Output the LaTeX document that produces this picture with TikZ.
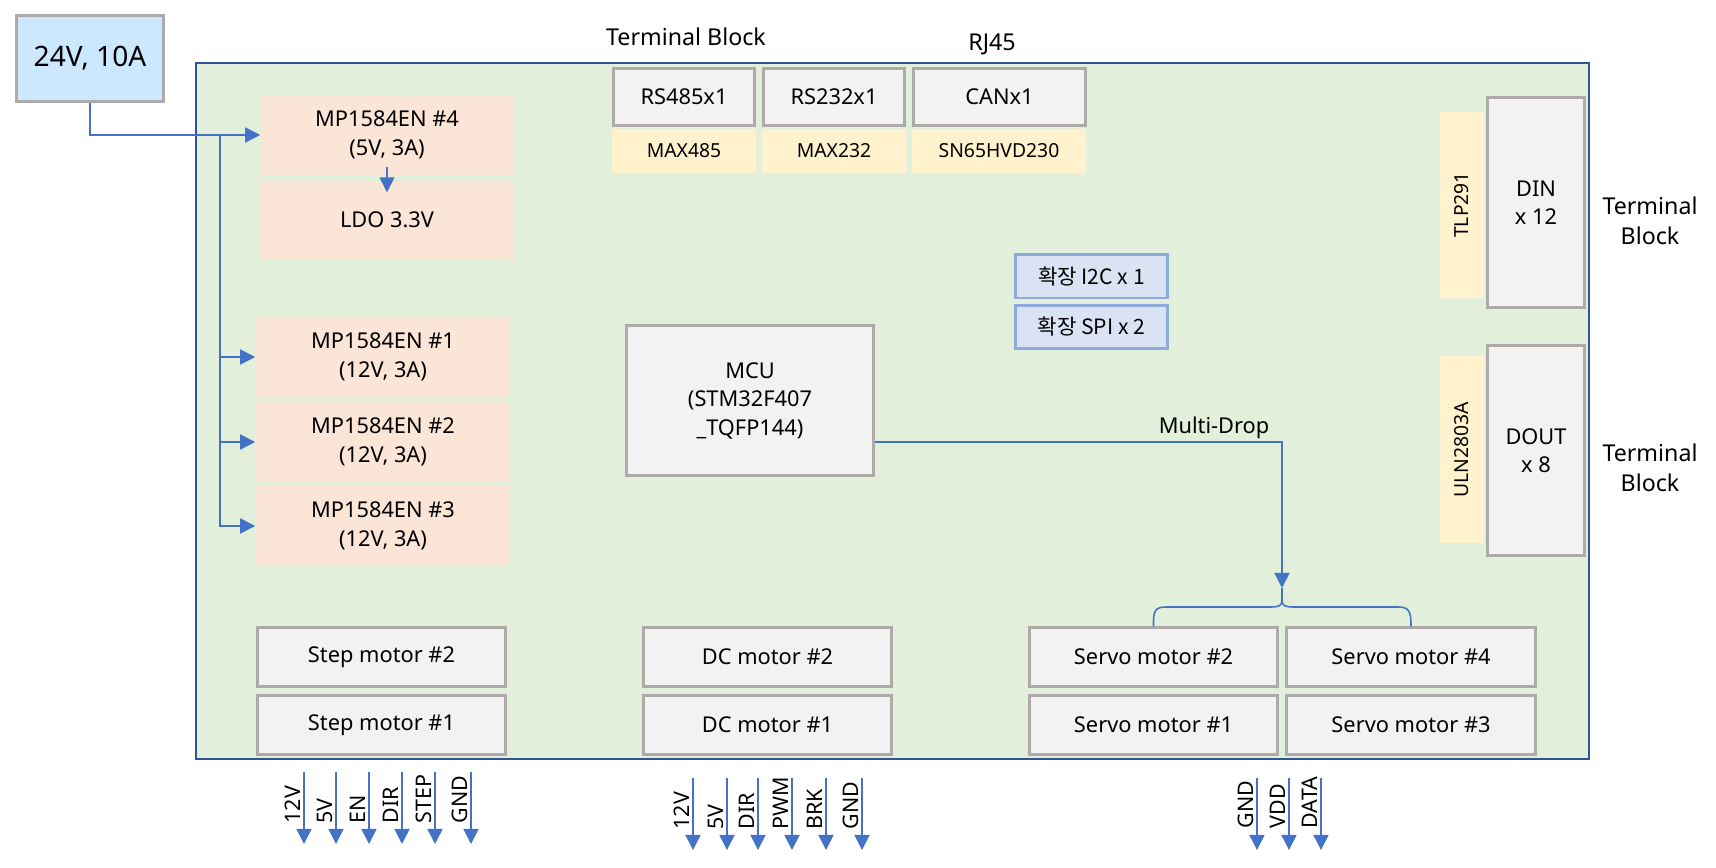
\documentclass[tikz,border=0pt]{standalone}
\usepackage{fontspec}
\setmainfont{Noto Sans}
\newfontfamily\krfont{Noto Sans CJK KR}
\usetikzlibrary{positioning,arrows.meta}
\definecolor{wireblue}{HTML}{4472C4}
\definecolor{boardline}{HTML}{2F5597}
\definecolor{boardfill}{HTML}{E2EFDA}
\definecolor{boxgray}{HTML}{AEAAAA}
\definecolor{boxfill}{HTML}{F2F2F2}
\definecolor{psufill}{HTML}{CCE8FF}
\definecolor{regfill}{HTML}{FBE5D6}
\definecolor{chipfill}{HTML}{FFF2CC}
\definecolor{extfill}{HTML}{DAE3F3}
\definecolor{extline}{HTML}{8FAADC}
\newcommand\bdtext{\fontsize{6.2}{8.1}\selectfont}
\newcommand\bdsmall{\fontsize{5.5}{6.6}\selectfont}
\newcommand\bdext{\fontsize{6}{7}\selectfont}
\newcommand\bdbig{\fontsize{8}{9.6}\selectfont}
\newcommand\bdlabel{\fontsize{6.6}{8.6}\selectfont}
\newcommand\bdpin{\fontsize{6.1}{7}\selectfont}
\begin{document}
\begin{tikzpicture}[x=0.01cm,y=-0.01cm,
	gbox/.style={draw=boxgray,line width=0.85pt,fill=boxfill,align=center,inner sep=0pt,font=\bdtext},
	motor/.style={gbox,minimum width=24.8mm,minimum height=5.8mm},
	reg/.style={fill=regfill,align=center,inner sep=0pt,font=\bdtext,minimum width=25.4mm,minimum height=7.9mm},
	chip/.style={fill=chipfill,inner sep=0pt,font=\bdsmall},
	ext/.style={draw=extline,line width=0.85pt,fill=extfill,inner sep=0pt,font=\krfont\bdext,minimum width=15.2mm,minimum height=4.3mm},
	wire/.style={draw=wireblue,line width=0.45pt},
	arrowhd/.style={-{Triangle[width=1.5mm,length=1.5mm]}},
	pinlbl/.style={rotate=90,anchor=base west,inner sep=0pt,font=\bdpin},
	lbl/.style={inner sep=0pt,align=center,font=\bdlabel}]
	\useasboundingbox (0,0) rectangle (1716,868);
	\draw[boardline,line width=0.7pt,fill=boardfill] (196,63) rectangle (1589,759);

	\node[draw=boxgray,line width=1pt,fill=psufill,minimum width=14.7mm,minimum height=8.6mm,font=\bdbig] (psu) at (90,58.5) {24V, 10A};
	\node[lbl] (tbtop) at (686,37) {Terminal Block};
	\node[lbl] (rj45) at (992,44) {RJ45};

	\node[reg,minimum width=25.2mm,minimum height=8mm] (mp4) at (387,135) {MP1584EN \#4\\(5V, 3A)};
	\node[reg,minimum width=25.3mm,minimum height=7.8mm] (ldo) at (387,220) {LDO 3.3V};
	\node[reg] (mp1) at (383,357) {MP1584EN \#1\\(12V, 3A)};
	\node[reg] (mp2) at (383,442) {MP1584EN \#2\\(12V, 3A)};
	\node[reg] (mp3) at (383,526) {MP1584EN \#3\\(12V, 3A)};

	\node[gbox,minimum width=14.1mm,minimum height=5.7mm] (rs485) at (684,97) {RS485x1};
	\node[gbox,minimum width=14.1mm,minimum height=5.7mm] (rs232) at (834,97) {RS232x1};
	\node[gbox,minimum width=17.2mm,minimum height=5.7mm] (can) at (999.5,97) {CANx1};
	\node[chip,minimum width=14.4mm,minimum height=4.4mm] (max485) at (684,151) {MAX485};
	\node[chip,minimum width=14.4mm,minimum height=4.4mm] (max232) at (834,151) {MAX232};
	\node[chip,minimum width=17.4mm,minimum height=4.4mm] (sn65) at (999,151) {SN65HVD230};

	\node[gbox,minimum width=9.7mm,minimum height=21mm] (din) at (1536,202.5) {DIN\\x 12};
	\node[chip,rotate=90,minimum width=18.6mm,minimum height=4.4mm] (tlp) at (1462,205) {TLP291};
	\node[gbox,minimum width=9.7mm,minimum height=21mm] (dout) at (1536,450.5) {DOUT\\x 8};
	\node[chip,rotate=90,minimum width=18.7mm,minimum height=4.4mm] (uln) at (1462,449.5) {ULN2803A};
	\node[lbl] (tbdin) at (1650,221) {Terminal\\Block};
	\node[lbl] (tbdout) at (1650,468) {Terminal\\Block};

	\node[ext] (i2c) at (1091.5,276.5) {확장 I2C x 1};
	\node[ext] (spi) at (1091.5,327) {확장 SPI x 2};

	\node[gbox,minimum width=24.7mm,minimum height=15mm] (mcu) at (750,400.5) {MCU\\(STM32F407\\\_TQFP144)};

	\node[motor] (step2) at (381.5,657) {Step motor \#2};
	\node[motor] (step1) at (381.5,725) {Step motor \#1};
	\node[motor] (dc2) at (767.5,657) {DC motor \#2};
	\node[motor] (dc1) at (767.5,725) {DC motor \#1};
	\node[motor] (servo2) at (1153.5,657) {Servo motor \#2};
	\node[motor] (servo4) at (1411,657) {Servo motor \#4};
	\node[motor] (servo1) at (1153.5,725) {Servo motor \#1};
	\node[motor] (servo3) at (1411,725) {Servo motor \#3};

	\draw[wire,arrowhd] (psu.south) |- (mp4.west);
	\coordinate (bus) at (220,136);
	\foreach \m in {mp1,mp2,mp3} \draw[wire,arrowhd] (bus) |- (\m.west);
	\draw[wire,arrowhd,shorten <=-0.9mm,shorten >=-1.2mm] (mp4.south) -- (ldo.north);

	\coordinate (md) at (1282,442);
	\coordinate (mdtip) at (1282,588);
	\draw[wire,arrowhd] (mcu.east |- md) -- (md) -- (mdtip);
	\node[lbl,font=\bdtext,above left=0.3mm and 1.2mm of md] (mdlabel) {Multi-Drop};
	\draw[wire] (mdtip) -- (1282,600);
	\draw[wire] (servo2.north) .. controls (1153,611) and (1155,607) .. (1166,607) -- (1270,607)
		.. controls (1279,607) and (1282,606) .. (1282,600) .. controls (1282,606) and (1285,607) .. (1294,607)
		-- (1398,607) .. controls (1409,607) and (1411,611) .. (servo4.north);

	\foreach \x/\t in {304/12V,336/5V,369/EN,402/DIR,435/STEP,471/GND}{
		\coordinate (st-\t) at (\x,772);
		\coordinate (sb-\t) at (\x,844);
		\draw[wire,arrowhd] (st-\t) -- (sb-\t);
		\node[pinlbl] (sl-\t) at (\x-4,824) {\t};
	}
	\foreach \x/\t in {693/12V,727/5V,758/DIR,792/PWM,826/BRK,862/GND}{
		\coordinate (dt-\t) at (\x,778);
		\coordinate (db-\t) at (\x,850);
		\draw[wire,arrowhd] (dt-\t) -- (db-\t);
		\node[pinlbl] (dl-\t) at (\x-4,830) {\t};
	}
	\foreach \x/\t in {1257/GND,1289/VDD,1321/DATA}{
		\coordinate (vt-\t) at (\x,778);
		\coordinate (vb-\t) at (\x,850);
		\draw[wire,arrowhd] (vt-\t) -- (vb-\t);
		\node[pinlbl] (vl-\t) at (\x-4,829) {\t};
	}
\end{tikzpicture}
\end{document}
